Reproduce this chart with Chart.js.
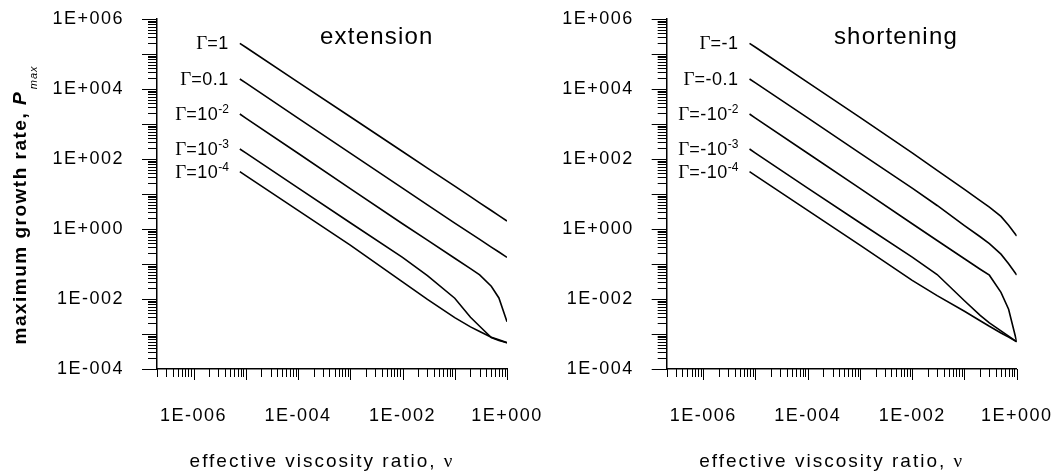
<!DOCTYPE html>
<html><head><meta charset="utf-8">
<script src="https://cdn.jsdelivr.net/npm/chart.js@4"></script>
<style>
html,body{margin:0;padding:0;background:#fff;overflow:hidden}
#wrap{position:relative;width:1052px;height:474px;background:#fff}
canvas{position:absolute;left:0;top:0}
</style></head><body>
<div id="wrap"><canvas id="cL" width="1052" height="474"></canvas><canvas id="cR" width="1052" height="474"></canvas></div>
<script>
// ---- data ----
const nu = [7.7e-6, 1e-5, 1e-4, 1e-3, 1e-2, 3e-2, 0.1, 0.2, 0.3, 0.5, 0.7, 1];

// extension panel
const extG1    = [2.02e5, 1.56e5, 1.58e4, 1.61e3, 164, 55.1, 16.7, 8.38, 5.60, 3.37, 2.42, 1.69];
const extG01   = [1.93e4, 1.49e4, 1.48e3, 148, 14.7, 4.90, 1.48, 0.750, 0.505, 0.305, 0.220, 0.155];
const extG1e2  = [1.93e3, 1.48e3, 146, 14.3, 1.41, 0.479, 0.146, 0.0735, 0.0490, 0.0231, 0.0107, 0.00224];
const extG1e3  = [193, 149, 15.0, 1.51, 0.155, 0.0467, 0.0105, 0.00301, 0.00166, 7.9e-4, 6.5e-4, 5.64e-4];
const extG1e4  = [43.4, 33.4, 3.40, 0.346, 0.0310, 0.00975, 0.00294, 0.00160, 0.00118, 8.13e-4, 6.81e-4, 5.64e-4];

// shortening panel
const shG1     = [2.02e5, 1.56e5, 1.55e4, 1.55e3, 150, 47.5, 13.5, 6.50, 4.22, 2.29, 1.28, 0.631];
const shG01    = [1.93e4, 1.49e4, 1.49e3, 148, 14.8, 4.70, 1.25, 0.600, 0.380, 0.191, 0.102, 0.0485];
const shG1e2   = [1.93e3, 1.48e3, 146, 14.4, 1.41, 0.470, 0.141, 0.0708, 0.0479, 0.0155, 0.0051, 6.03e-4];
const shG1e3   = [193, 148, 14.8, 1.51, 0.158, 0.0500, 0.0089, 0.00339, 0.00209, 0.00123, 8.71e-4, 6.03e-4];
const shG1e4   = [43.4, 33.5, 3.42, 0.347, 0.0340, 0.0125, 0.00447, 0.00240, 0.00166, 0.00107, 8.13e-4, 6.03e-4];

// curve labels
const gammaBase = ['1', '0.1', '10', '10', '10'];
const gammaExp  = ['', '', '-2', '-3', '-4'];

// axes
const xMin = 2e-7, xMax = 1, yMin = 1e-4, yMax = 1e6;
const xTickValues = [1e-6, 1e-4, 1e-2, 1];
const xTickLabels = ['1E-006', '1E-004', '1E-002', '1E+000'];
const yTickValues = [1e6, 1e4, 1e2, 1, 1e-2, 1e-4];
const yTickLabels = ['1E+006', '1E+004', '1E+002', '1E+000', '1E-002', '1E-004'];
const xTitle = 'effective viscosity ratio, ';
const xTitleSym = 'ν';
const yTitle = 'maximum growth rate, ';
const yTitleSym = 'P';
const yTitleSub = 'max';

// ---- helpers ----
function logTicks(lo, hi) {
  const out = [];
  for (let e = Math.floor(Math.log10(lo)) - 1; e <= Math.ceil(Math.log10(hi)); e++) {
    for (let m = 1; m <= 9; m++) {
      const v = m * Math.pow(10, e);
      if (v >= lo * 0.999 && v <= hi * 1.001) out.push({ v, major: m === 1 });
    }
  }
  return out;
}
function labelFor(values, labels, v) {
  for (let i = 0; i < values.length; i++) if (Math.abs(Math.log10(v) - Math.log10(values[i])) < 1e-6) return labels[i];
  return '';
}
function drawPieces(ctx, pieces, x, y, align) {
  let w = 0;
  pieces.forEach(p => { ctx.font = p.font; ctx.letterSpacing = (p.ls || 0) + 'px'; p.w = ctx.measureText(p.t).width; w += p.w; });
  let cx = align === 'right' ? x - w : (align === 'center' ? x - w / 2 : x);
  ctx.textAlign = 'left'; ctx.textBaseline = 'alphabetic';
  pieces.forEach(p => { ctx.font = p.font; ctx.letterSpacing = (p.ls || 0) + 'px'; ctx.fillText(p.t, cx, y + (p.dy || 0)); cx += p.w; });
  ctx.letterSpacing = '0px';
}

const decoPlugin = {
  id: 'deco',
  beforeDraw(chart) { chart.ctx.letterSpacing = '1.5px'; },
  afterDraw(chart) {
    const o = chart.options.plugins.deco;
    const ctx = chart.ctx, ca = chart.chartArea, xs = chart.scales.x, ys = chart.scales.y;
    ctx.save();
    ctx.letterSpacing = '0px';
    ctx.fillStyle = '#000';
    ctx.strokeStyle = '#000';
    ctx.lineWidth = 1;
    logTicks(yMin, yMax).forEach(t => {
      const py = Math.round(ys.getPixelForValue(t.v)) + 0.5;
      const len = t.major ? 15 : 9;
      ctx.beginPath(); ctx.moveTo(ca.left - len, py); ctx.lineTo(ca.left, py); ctx.stroke();
    });
    logTicks(xMin, xMax).forEach(t => {
      const px = Math.round(xs.getPixelForValue(t.v)) + 0.5;
      const len = t.major ? 11 : 8;
      ctx.beginPath(); ctx.moveTo(px, ca.bottom); ctx.lineTo(px, ca.bottom + len); ctx.stroke();
    });
    chart.data.datasets.forEach((ds, i) => {
      const p = chart.getDatasetMeta(i).data[0];
      const pieces = [
        { t: 'Γ', font: '19px "Liberation Serif"' },
        { t: '=' + o.sign + gammaBase[i], font: '18px "Liberation Sans"', ls: 0.5 },
      ];
      if (gammaExp[i]) pieces.push({ t: gammaExp[i], font: '12px "Liberation Sans"', dy: -7 });
      drawPieces(ctx, pieces, p.x - 11, p.y + 6, 'right');
    });
    drawPieces(ctx, [{ t: o.title, font: '24px "Liberation Sans"', ls: 1.2 }], ca.left + o.titleFrac * (ca.right - ca.left), 44, 'center');
    drawPieces(ctx, [
      { t: xTitle, font: '19px "Liberation Sans"', ls: 2 },
      { t: xTitleSym, font: '19px "Liberation Serif"' }
    ], (ca.left + ca.right) / 2 - 11, 467, 'center');
    if (o.yTitle) {
      ctx.translate(26, 205);
      ctx.rotate(-Math.PI / 2);
      const pieces = [
        { t: yTitle, font: 'bold 19px "Liberation Sans"', ls: 1.5 },
        { t: yTitleSym, font: 'italic bold 19px "Liberation Sans"' },
        { t: ' ', font: '11px "Liberation Sans"' },
        { t: yTitleSub, font: 'italic 11px "Liberation Sans"', dy: 11, ls: 1 }
      ];
      drawPieces(ctx, pieces, 0, 0, 'center');
    }
    ctx.restore();
  }
};

function makeDatasets(arrs) {
  return arrs.map(a => ({
    data: nu.map((x, i) => ({ x, y: a[i] })),
    borderColor: '#000', borderWidth: 1.6, pointRadius: 0, tension: 0, fill: false
  }));
}

function makeChart(id, arrs, pad, yW, title, titleFrac, sign, showYTitle) {
  return new Chart(document.getElementById(id), {
    type: 'line',
    data: { datasets: makeDatasets(arrs) },
    options: {
      responsive: false, animation: false, events: [],
      layout: { padding: pad },
      plugins: {
        legend: { display: false }, tooltip: { enabled: false },
        deco: { title, titleFrac, sign, yTitle: showYTitle }
      },
      scales: {
        x: {
          type: 'logarithmic', min: xMin, max: xMax,
          grid: { display: false, drawTicks: false },
          border: { display: true, color: '#000', width: 1.5 },
          afterBuildTicks: s => { s.ticks = xTickValues.map(v => ({ value: v })); },
          afterFit: s => { s.height = 105; s.paddingLeft = s.paddingRight = s.paddingTop = s.paddingBottom = 0; },
          ticks: {
            autoSkip: false, maxRotation: 0, minRotation: 0, padding: 36, color: '#000',
            font: { family: '"Liberation Sans"', size: 18 },
            callback: v => labelFor(xTickValues, xTickLabels, v)
          }
        },
        y: {
          type: 'logarithmic', min: yMin, max: yMax,
          grid: { display: false, drawTicks: false },
          border: { display: true, color: '#000', width: 1.5 },
          afterBuildTicks: s => { s.ticks = yTickValues.map(v => ({ value: v })); },
          afterFit: s => { s.width = yW; s.paddingLeft = s.paddingRight = s.paddingTop = s.paddingBottom = 0; },
          ticks: {
            autoSkip: false, padding: 33, color: '#000',
            font: { family: '"Liberation Sans"', size: 18 },
            callback: v => labelFor(yTickValues, yTickLabels, v)
          }
        }
      }
    },
    plugins: [decoPlugin]
  });
}

makeChart('cL', [extG1, extG01, extG1e2, extG1e3, extG1e4], { left: 0, right: 545, top: 19, bottom: 0 }, 157, 'extension', 0.628, '', true);
makeChart('cR', [shG1, shG01, shG1e2, shG1e3, shG1e4], { left: 510, right: 35.3, top: 19, bottom: 0 }, 156.7, 'shortening', 0.655, '-', false);
</script>
</body></html>
